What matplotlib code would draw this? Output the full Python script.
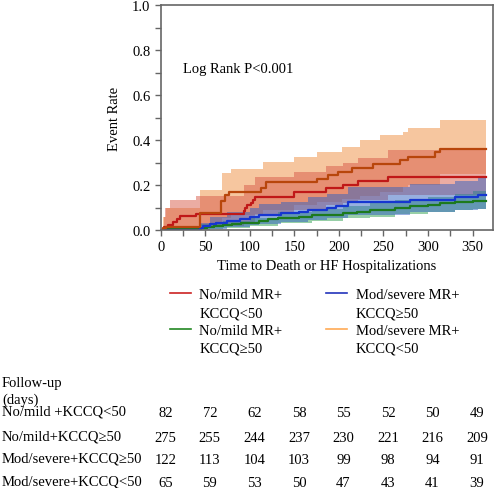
import numpy as np
import matplotlib
matplotlib.use("Agg")
import matplotlib.pyplot as plt
from matplotlib.lines import Line2D
from matplotlib.ticker import MultipleLocator
import matplotlib.transforms as mtransforms

plt.rcParams['font.family'] = ['Liberation Serif', 'DejaVu Serif']
plt.rcParams['font.size'] = 10.5

# ---- curves (step times in days, cumulative event rate) ----
red_t = [0, 3, 8, 14, 18, 22, 39, 93, 95, 97, 101, 104, 106, 150, 185, 205, 221, 255, 365]
red_y = [0, 0.012, 0.024, 0.037, 0.049, 0.061, 0.073, 0.085, 0.098, 0.11, 0.122, 0.134, 0.146,
         0.168, 0.186, 0.2, 0.218, 0.237, 0.237]

green_t = [0, 5, 45, 52, 60, 70, 80, 90, 100, 110, 120, 132, 155, 170, 190, 205, 220, 235,
           250, 263, 280, 300, 313, 330, 350, 365]
green_y = [0, 0.004, 0.011, 0.015, 0.018, 0.022, 0.025, 0.029, 0.033, 0.04, 0.047, 0.054, 0.058,
           0.065, 0.069, 0.076, 0.08, 0.087, 0.091, 0.098, 0.105, 0.113, 0.12, 0.124, 0.131, 0.131]

blue_t = [0, 44, 47, 55, 62, 74, 89, 100, 110, 135, 155, 165, 186, 197, 210, 280, 330, 356, 365]
blue_y = [0, 0.008, 0.016, 0.025, 0.033, 0.041, 0.049, 0.057, 0.066, 0.074, 0.082, 0.09, 0.099,
          0.107, 0.124, 0.134, 0.146, 0.156, 0.156]

orange_t = [0, 2, 6, 44, 68, 72, 77, 113, 118, 175, 188, 199, 215, 238, 268, 278, 308, 314, 365]
orange_y = [0, 0.008, 0.015, 0.077, 0.131, 0.154, 0.167, 0.185, 0.213, 0.228, 0.243, 0.26, 0.276,
            0.293, 0.31, 0.327, 0.346, 0.362, 0.362]

# ---- confidence bands ----
red_ci_t = [0, 3, 5, 10, 20, 39, 93, 106, 150, 185, 205, 221, 255, 365]
red_lo = [0, 0, 0, 0, 0.012, 0.02, 0.03, 0.07, 0.09, 0.11, 0.12, 0.135, 0.155, 0.155]
red_hi = [0, 0.06, 0.1, 0.135, 0.135, 0.153, 0.2, 0.235, 0.26, 0.285, 0.3, 0.32, 0.354, 0.354]

green_ci_t = [0, 5, 45, 70, 100, 132, 170, 205, 235, 263, 300, 330, 350, 365]
green_lo = [0, 0, 0.003, 0.009, 0.017, 0.032, 0.042, 0.052, 0.06, 0.07, 0.08, 0.088, 0.094, 0.094]
green_hi = [0, 0.012, 0.025, 0.04, 0.055, 0.08, 0.092, 0.105, 0.12, 0.133, 0.148, 0.16, 0.175, 0.175]

blue_ci_t = [0, 44, 55, 74, 100, 110, 135, 165, 186, 210, 280, 330, 356, 365]
blue_lo = [0, 0, 0.005, 0.012, 0.022, 0.028, 0.035, 0.045, 0.052, 0.068, 0.078, 0.088, 0.095, 0.095]
blue_hi = [0, 0.03, 0.06, 0.08, 0.1, 0.115, 0.125, 0.145, 0.16, 0.19, 0.205, 0.22, 0.232, 0.232]

orange_ci_t = [0, 2, 6, 44, 69, 79, 115, 149, 175, 203, 224, 246, 272, 278, 313, 365]
orange_lo = [0, 0, 0, 0.02, 0.055, 0.065, 0.09, 0.11, 0.125, 0.14, 0.15, 0.17, 0.19, 0.2, 0.25, 0.25]
orange_hi = [0, 0.06, 0.1, 0.176, 0.254, 0.272, 0.302, 0.324, 0.347, 0.369, 0.399, 0.421, 0.436,
             0.454, 0.488, 0.488]

# ---- numbers at risk ----
risk_days = [0, 50, 100, 150, 200, 250, 300, 350]
risk_labels = ["No/mild +KCCQ<50", "No/mild+KCCQ\u226550", "Mod/severe+KCCQ\u226550", "Mod/severe+KCCQ<50"]
risk_nomild_lo = [82, 72, 62, 58, 55, 52, 50, 49]
risk_nomild_hi = [275, 255, 244, 237, 230, 221, 216, 209]
risk_mod_hi = [122, 113, 104, 103, 99, 98, 94, 91]
risk_mod_lo = [65, 59, 53, 50, 47, 43, 41, 39]

fig = plt.figure(figsize=(4.95, 4.89), dpi=100)
ax = fig.add_axes([0.325, 0.5276, 0.671, 0.4594])

# bands: orange, red, green, blue
ax.fill_between(orange_ci_t, orange_lo, orange_hi, step='post', color='#f0a060', alpha=0.6, lw=0)
ax.fill_between(red_ci_t, red_lo, red_hi, step='post', color='#d85a48', alpha=0.5, lw=0)
ax.fill_between(green_ci_t, green_lo, green_hi, step='post', color='#30a050', alpha=0.5, lw=0)
ax.fill_between(blue_ci_t, blue_lo, blue_hi, step='post', color='#3060c0', alpha=0.5, lw=0)

ax.step(green_t, green_y, where='post', color='#1d7a1d', lw=1.6)
ax.step(blue_t, blue_y, where='post', color='#1636d0', lw=1.6)
ax.step(red_t, red_y, where='post', color='#c01818', lw=1.6)
ax.step(orange_t, orange_y, where='post', color='#b8460c', lw=1.6)

ax.set_xlim(0, 373)
ax.set_ylim(0, 1.0)
ax.xaxis.set_major_locator(MultipleLocator(50))
ax.xaxis.set_minor_locator(MultipleLocator(25))
ax.yaxis.set_major_locator(MultipleLocator(0.2))
ax.yaxis.set_minor_locator(MultipleLocator(0.1))
ax.yaxis.set_major_formatter(matplotlib.ticker.FormatStrFormatter('%.1f'))
ax.tick_params(which='both', direction='out', length=4, width=1, color='#666666')
for s in ax.spines.values():
    s.set_color('#666666')
    s.set_linewidth(1.2)

ax.set_xlabel("Time to Death or HF Hospitalizations", labelpad=4)
ax.set_ylabel("Event Rate", labelpad=8)
ax.text(25, 0.72, "Log Rank P<0.001", va='center', ha='left')

# legend, handle on first text line
h_red = Line2D([], [], color='#cc2222', lw=1.2)
h_green = Line2D([], [], color='#228822', lw=1.2)
h_blue = Line2D([], [], color='#2233bb', lw=1.2)
h_orange = Line2D([], [], color='#ffaa55', lw=1.2)
h_none = Line2D([], [], color='none')
handles = [h_red, h_none, h_green, h_none, h_blue, h_none, h_orange, h_none]
labels = ["No/mild MR+", "KCCQ<50", "No/mild MR+", "KCCQ\u226550",
          "Mod/severe MR+", "KCCQ\u226550", "Mod/severe MR+", "KCCQ<50"]
fig.legend(handles, labels, loc='upper left', bbox_to_anchor=(163 / 495, 1 - 282 / 489),
           ncol=2, frameon=False, borderpad=0, handlelength=1.4, handletextpad=0.6,
           columnspacing=3.0, labelspacing=0.3)

# numbers at risk table
fig.text(2 / 495, 1 - 392 / 489, "Follow-up\n(days)", ha='left', va='center', linespacing=1.3)
trans = mtransforms.blended_transform_factory(ax.transData, fig.transFigure)
rows = [risk_nomild_lo, risk_nomild_hi, risk_mod_hi, risk_mod_lo]
row_y = [412, 437, 459, 482]
for lab, vals, yp in zip(risk_labels, rows, row_y):
    fig.text(2 / 495, 1 - yp / 489, lab, ha='left', va='center')
    for d, v in zip(risk_days, vals):
        ax.text(d + 5, 1 - (yp + 2) / 489, str(v), ha='center', va='center', transform=trans)

fig.savefig("out.png", dpi=100)
